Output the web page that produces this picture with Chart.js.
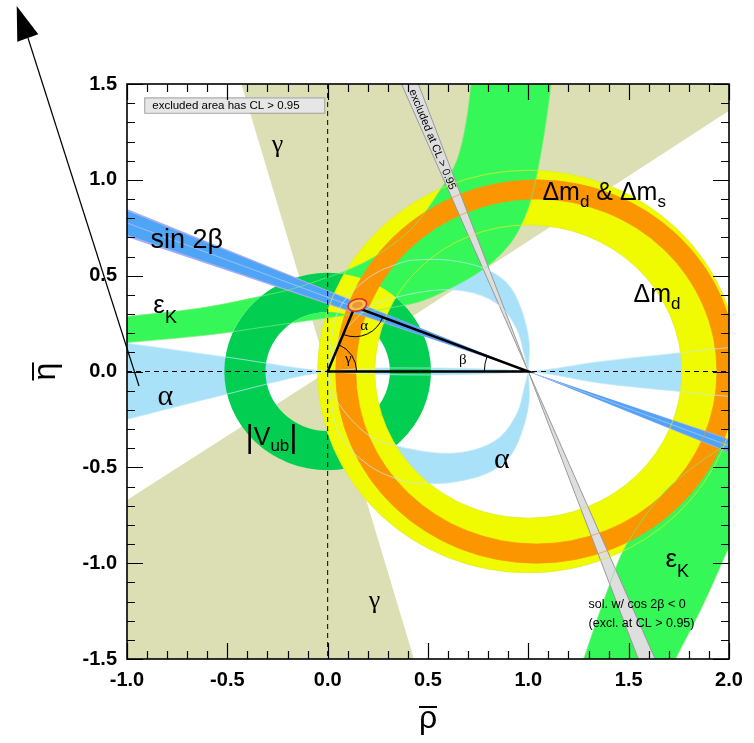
<!DOCTYPE html>
<html>
<head>
<meta charset="utf-8">
<title>CKM unitarity triangle</title>
<script src="https://cdn.jsdelivr.net/npm/chart.js@4.4.1/dist/chart.umd.min.js"></script>
<style>
  html, body { margin: 0; padding: 0; background: #fff; }
  #wrap { width: 754px; height: 743px; }
</style>
</head>
<body>
<div id="wrap"><canvas id="ut" width="754" height="743"></canvas></div>
<script>
// axis ticks
const rhoTicks = [-1.0, -0.5, 0.0, 0.5, 1.0, 1.5, 2.0];
const etaTicks = [-1.5, -1.0, -0.5, 0.0, 0.5, 1.0, 1.5];

// unitarity triangle (rho, eta) and fit point
const triangle = [[0, 0], [1, 0], [0.135, 0.338], [0, 0]];
const fitPoint = [0.148, 0.347];

// gamma: double cone out of the origin
const gammaUp = [[0, 0], [-0.43, 1.5], [2.0, 1.5], [2.0, 1.36]];
const gammaDown = [[0, 0], [-1.0, -0.67], [-1.0, -1.5], [0.43, -1.5]];

// alpha: flat solutions along eta = 0
const alphaFlatTop = [[-1, 0.148], [-0.47, 0.07], [0, 0], [0.5, -0.018], [1, 0], [1.36, 0.052], [1.76, 0.098], [2, 0.125]];
const alphaFlatBottom = [[-1, -0.25], [-0.51, -0.12], [0, 0], [0.5, 0.018], [1, 0], [1.36, -0.061], [1.76, -0.105], [2, -0.13]];
// alpha: arcs through (0,0) and (1,0)
const alphaLowOuter = [[0, 0], [0.05, -0.31], [0.2, -0.486], [0.362, -0.566], [0.462, -0.583], [0.612, -0.58], [0.778, -0.539], [0.894, -0.461], [0.96, -0.34], [1.003, -0.165], [1, 0]];
const alphaLowInner = [[0, 0], [0.05, -0.16], [0.2, -0.33], [0.362, -0.392], [0.562, -0.426], [0.728, -0.409], [0.861, -0.34], [0.944, -0.217], [0.977, -0.096], [1, 0]];
const alphaUpOuter = [[0, 0], [0.05, 0.31], [0.2, 0.486], [0.362, 0.566], [0.462, 0.583], [0.612, 0.58], [0.778, 0.539], [0.894, 0.461], [0.96, 0.34], [1.003, 0.165], [1, 0]];
const alphaUpInner = [[0, 0], [0.05, 0.16], [0.2, 0.33], [0.362, 0.392], [0.562, 0.426], [0.728, 0.409], [0.861, 0.34], [0.944, 0.217], [0.977, 0.096], [1, 0]];

// rings: centre and [inner, outer] radius
const vubCenter = [0, 0];
const vubRadii = [0.31, 0.515];
const dmdCenter = [1, 0];
const dmdRadii = [0.765, 1.05];
const dmsCenter = [1.04, 0];
const dmsRadii = [0.90, 1.0];

// eps_K hyperbolic bands
const ekUpLow = [[-1, 0.151], [-0.6, 0.19], [-0.3, 0.235], [0, 0.28], [0.3, 0.33], [0.5, 0.38], [0.75, 0.515], [0.9, 0.655], [0.98, 0.8], [1.03, 0.966], [1.08, 1.245], [1.114, 1.5]];
const ekUpHigh = [[-1, 0.287], [-0.634, 0.331], [-0.3, 0.40], [-0.136, 0.444], [0.1, 0.53], [0.263, 0.618], [0.429, 0.757], [0.562, 0.949], [0.645, 1.105], [0.69, 1.3], [0.715, 1.5]];
const ekDownLeft = [[1.276, -1.5], [1.401, -1.123], [1.493, -0.896], [1.658, -0.653], [1.825, -0.496], [2.0, -0.373]];
const ekDownRight = [[1.733, -1.5], [1.874, -1.21], [2.0, -0.914]];

// sin 2beta: two lines crossing at (1,0)
const s2bOuter = [[-1, 0.848], [2, -0.424], [2, -0.351], [-1, 0.702]];
const s2bInner = [[-1, 0.837], [2, -0.4185], [2, -0.3565], [-1, 0.713]];
const s2bMid = [[-1, 0.775], [2, -0.3875]];

// cos 2beta < 0 solution
const cos2bBand = [[0.368, 1.5], [1.632, -1.5], [1.548, -1.5], [0.452, 1.5]];

const SANS = '"Liberation Sans", Arial, Helvetica, sans-serif';
const SERIF = '"Liberation Serif", "Times New Roman", serif';

const colors = {
  gamma: '#dcdfb4',
  alpha: '#a9e1f8',
  vub: '#02cf52',
  dmd: '#f0fa00',
  ek: '#36f758',
  dms: '#fb9600',
  s2bEdge: '#a8acf2',
  s2b: '#4ea5f6',
  grey: '#dedede',
  greyEdge: '#999999'
};

function toPx(chart, p) {
  return [chart.scales.x.getPixelForValue(p[0]), chart.scales.y.getPixelForValue(p[1])];
}

// smooth curve through points (Catmull-Rom as cubic Beziers)
function curve(ctx, pts, start) {
  if (start) ctx.moveTo(pts[0][0], pts[0][1]);
  else ctx.lineTo(pts[0][0], pts[0][1]);
  for (let i = 0; i < pts.length - 1; i++) {
    const p0 = pts[i - 1] || pts[i], p1 = pts[i], p2 = pts[i + 1], p3 = pts[i + 2] || p2;
    ctx.bezierCurveTo(
      p1[0] + (p2[0] - p0[0]) / 6, p1[1] + (p2[1] - p0[1]) / 6,
      p2[0] - (p3[0] - p1[0]) / 6, p2[1] - (p3[1] - p1[1]) / 6,
      p2[0], p2[1]);
  }
}

function band(chart, a, b, color) {
  const ctx = chart.ctx;
  ctx.beginPath();
  curve(ctx, a.map(p => toPx(chart, p)), true);
  curve(ctx, b.slice().reverse().map(p => toPx(chart, p)), false);
  ctx.closePath();
  ctx.fillStyle = color;
  ctx.fill();
}

function poly(chart, pts, color) {
  const ctx = chart.ctx;
  ctx.beginPath();
  pts.forEach((p, i) => {
    const q = toPx(chart, p);
    if (i === 0) ctx.moveTo(q[0], q[1]); else ctx.lineTo(q[0], q[1]);
  });
  ctx.closePath();
  ctx.fillStyle = color;
  ctx.fill();
}

function ellipse(chart, c, r) {
  const [cx, cy] = toPx(chart, c);
  const rx = Math.abs(chart.scales.x.getPixelForValue(c[0] + r) - cx);
  const ry = Math.abs(chart.scales.y.getPixelForValue(c[1] + r) - cy);
  chart.ctx.moveTo(cx + rx, cy);
  chart.ctx.ellipse(cx, cy, rx, ry, 0, 0, Math.PI * 2);
}

function ring(chart, c, radii, color) {
  const ctx = chart.ctx;
  ctx.beginPath();
  ellipse(chart, c, radii[1]);
  ellipse(chart, c, radii[0]);
  ctx.fillStyle = color;
  ctx.fill('evenodd');
}

function strokeCurve(chart, pts, color, w) {
  const ctx = chart.ctx;
  ctx.beginPath();
  curve(ctx, pts.map(p => toPx(chart, p)), true);
  ctx.strokeStyle = color;
  ctx.lineWidth = w;
  ctx.stroke();
}

function strokeRing(chart, c, radii, color, w) {
  const ctx = chart.ctx;
  ctx.strokeStyle = color;
  ctx.lineWidth = w;
  radii.forEach(r => { ctx.beginPath(); ellipse(chart, c, r); ctx.stroke(); });
}

// text runs with sub-scripts: [text, size, dy, family]
function runs(ctx, x, y, parts) {
  let cx = x;
  for (const [t, size, dy, fam] of parts) {
    ctx.font = size + 'px ' + (fam || SANS);
    ctx.fillText(t, cx, y + dy);
    cx += ctx.measureText(t).width;
  }
}

const constraintsPlugin = {
  id: 'constraints',
  beforeDatasetsDraw(chart) {
    const { ctx, chartArea: a } = chart;
    ctx.save();
    ctx.beginPath();
    ctx.rect(a.left, a.top, a.right - a.left, a.bottom - a.top);
    ctx.clip();

    poly(chart, gammaUp, colors.gamma);
    poly(chart, gammaDown, colors.gamma);

    band(chart, alphaFlatTop, alphaFlatBottom, colors.alpha);
    band(chart, alphaLowOuter, alphaLowInner, colors.alpha);
    band(chart, alphaUpOuter, alphaUpInner, colors.alpha);

    ring(chart, vubCenter, vubRadii, colors.vub);
    ring(chart, dmdCenter, dmdRadii, colors.dmd);

    // eps_K sits above Delta m_d but below the |Vub| ring
    ctx.save();
    ctx.beginPath();
    ctx.rect(a.left, a.top, a.right - a.left, a.bottom - a.top);
    ellipse(chart, vubCenter, vubRadii[1]);
    ellipse(chart, vubCenter, vubRadii[0]);
    ctx.clip('evenodd');
    band(chart, ekUpLow, ekUpHigh, colors.ek);
    band(chart, ekDownLeft, ekDownRight, colors.ek);
    ctx.restore();

    ring(chart, dmsCenter, dmsRadii, colors.dms);

    poly(chart, s2bOuter, colors.s2bEdge);
    poly(chart, s2bInner, colors.s2b);
    strokeCurve(chart, s2bMid, 'rgba(190,195,250,0.9)', 0.8);

    poly(chart, cos2bBand, colors.grey);
    ctx.beginPath();
    [[cos2bBand[0], cos2bBand[1]], [cos2bBand[2], cos2bBand[3]]].forEach(seg => {
      const p = toPx(chart, seg[0]), q = toPx(chart, seg[1]);
      ctx.moveTo(p[0], p[1]);
      ctx.lineTo(q[0], q[1]);
    });
    ctx.strokeStyle = colors.greyEdge;
    ctx.lineWidth = 1;
    ctx.stroke();

    // thin contour lines of each constraint
    strokeRing(chart, dmdCenter, dmdRadii, 'rgba(222,238,40,0.95)', 0.8);
    strokeRing(chart, dmsCenter, dmsRadii, 'rgba(246,150,20,0.9)', 0.8);
    [ekUpLow, ekUpHigh, ekDownLeft, ekDownRight].forEach(b => strokeCurve(chart, b, 'rgba(120,235,120,0.9)', 0.8));
    [alphaFlatTop, alphaFlatBottom, alphaLowOuter, alphaLowInner, alphaUpOuter, alphaUpInner]
      .forEach(b => strokeCurve(chart, b, 'rgba(196,234,250,0.9)', 0.8));

    // dashed rho = 0 and eta = 0 lines
    const x0 = chart.scales.x.getPixelForValue(0);
    const y0 = chart.scales.y.getPixelForValue(0);
    ctx.setLineDash([5, 4]);
    ctx.strokeStyle = '#000';
    ctx.lineWidth = 1;
    ctx.beginPath();
    ctx.moveTo(x0, a.top); ctx.lineTo(x0, a.bottom);
    ctx.moveTo(a.left, y0); ctx.lineTo(a.right, y0);
    ctx.stroke();
    ctx.setLineDash([]);

    ctx.restore();
  }
};

const overlayPlugin = {
  id: 'overlay',
  afterDatasetsDraw(chart) {
    const { ctx, chartArea: a, scales: { x, y } } = chart;
    ctx.save();
    ctx.beginPath();
    ctx.rect(a.left, a.top, a.right - a.left, a.bottom - a.top);
    ctx.clip();

    // fit region at the apex
    const [fx, fy] = toPx(chart, fitPoint);
    ctx.beginPath();
    ctx.ellipse(fx, fy, 9.5, 6, -0.25, 0, Math.PI * 2);
    ctx.fillStyle = '#f9c83c';
    ctx.fill();
    ctx.strokeStyle = '#e0262e';
    ctx.lineWidth = 1.6;
    ctx.stroke();
    ctx.beginPath();
    ctx.ellipse(fx, fy, 5.5, 3.2, -0.25, 0, Math.PI * 2);
    ctx.fillStyle = '#e89a3a';
    ctx.fill();

    // angle arcs
    const O = toPx(chart, triangle[0]), B = toPx(chart, triangle[1]), A = toPx(chart, triangle[2]);
    const ang = (p, q) => Math.atan2(q[1] - p[1], q[0] - p[0]);
    ctx.strokeStyle = '#000';
    ctx.lineWidth = 1;
    ctx.beginPath(); ctx.arc(O[0], O[1], 29, ang(O, A), 0); ctx.stroke();
    ctx.beginPath(); ctx.arc(A[0], A[1], 30, ang(A, B), ang(A, O)); ctx.stroke();
    ctx.beginPath(); ctx.arc(B[0], B[1], 44, Math.PI, ang(B, A) + Math.PI * 2); ctx.stroke();

    ctx.fillStyle = '#000';
    ctx.textAlign = 'center';
    ctx.textBaseline = 'alphabetic';
    const greek = (t, p, size) => {
      const q = toPx(chart, p);
      ctx.font = size + 'px ' + SERIF;
      ctx.fillText(t, q[0], q[1]);
    };
    greek('γ', [0.103, 0.045], 15);
    greek('α', [0.182, 0.218], 15);
    greek('β', [0.674, 0.04], 15);
    greek('γ', [-0.25, 1.147], 26);
    greek('γ', [0.233, -1.235], 26);
    greek('α', [-0.809, -0.174], 30);
    greek('α', [0.868, -0.503], 30);

    // constraint labels
    ctx.textAlign = 'left';
    const at = p => toPx(chart, p);
    let p = at([-0.883, 0.646]);
    runs(ctx, p[0], p[1], [['sin 2β', 27, 0]]);
    p = at([-0.869, 0.305]);
    runs(ctx, p[0], p[1], [['ε', 26, 0], ['K', 18, 10]]);
    p = at([1.683, -1.02]);
    runs(ctx, p[0], p[1], [['ε', 26, 0], ['K', 18, 10]]);
    p = at([-0.41, -0.383]);
    runs(ctx, p[0], p[1], [['|', 32, 2], ['V', 25, 0], ['ub', 17, 6], ['|', 32, 2]]);
    p = at([1.07, 0.897]);
    runs(ctx, p[0], p[1], [['Δm', 25, 0], ['d', 17, 7], [' & Δm', 25, 0], ['s', 17, 7]]);
    p = at([1.524, 0.363]);
    runs(ctx, p[0], p[1], [['Δm', 25, 0], ['d', 17, 7]]);

    p = at([1.3, -1.236]);
    runs(ctx, p[0], p[1], [['sol. w/ cos 2β < 0', 12.5, 0]]);
    p = at([1.3, -1.333]);
    runs(ctx, p[0], p[1], [['(excl. at CL > 0.95)', 12.5, 0]]);

    // label along the cos 2beta < 0 band
    const s = at([0.421, 1.47]), e = at([1, 0]);
    ctx.save();
    ctx.translate(s[0], s[1]);
    ctx.rotate(Math.atan2(e[1] - s[1], e[0] - s[0]));
    ctx.font = '11px ' + SANS;
    ctx.textBaseline = 'middle';
    ctx.fillText('excluded at CL > 0.95', 0, 0.5);
    ctx.restore();

    // legend box
    const l0 = at([-0.914, 1.43]), l1 = at([-0.017, 1.35]);
    ctx.fillStyle = '#e6e6e6';
    ctx.fillRect(l0[0], l0[1], l1[0] - l0[0], l1[1] - l0[1]);
    ctx.strokeStyle = '#a0a0a0';
    ctx.lineWidth = 1;
    ctx.strokeRect(l0[0] + 0.5, l0[1] + 0.5, l1[0] - l0[0], l1[1] - l0[1]);
    ctx.fillStyle = '#000';
    ctx.font = '11.5px ' + SANS;
    ctx.textBaseline = 'middle';
    ctx.fillText('excluded area has CL > 0.95', l0[0] + 8, (l0[1] + l1[1]) / 2 + 0.5);
    ctx.restore();
  },
  afterDraw(chart) {
    const { ctx, chartArea: a, scales: { x, y } } = chart;
    ctx.save();
    ctx.strokeStyle = '#000';
    ctx.lineWidth = 1.2;
    ctx.beginPath();
    for (let i = -10; i <= 20; i++) {
      const px = Math.round(x.getPixelForValue(i / 10)) + 0.5;
      const len = i % 5 === 0 ? 16 : 8;
      ctx.moveTo(px, a.bottom); ctx.lineTo(px, a.bottom - len);
      ctx.moveTo(px, a.top); ctx.lineTo(px, a.top + len);
    }
    for (let i = -15; i <= 15; i++) {
      const py = Math.round(y.getPixelForValue(i / 10)) + 0.5;
      const len = i % 5 === 0 ? 16 : 8;
      ctx.moveTo(a.left, py); ctx.lineTo(a.left + len, py);
      ctx.moveTo(a.right, py); ctx.lineTo(a.right - len, py);
    }
    ctx.stroke();
    ctx.lineWidth = 1.6;
    ctx.strokeRect(a.left, a.top, a.right - a.left, a.bottom - a.top);

    // axis titles
    ctx.fillStyle = '#000';
    ctx.textAlign = 'center';
    ctx.textBaseline = 'alphabetic';
    ctx.font = '32px ' + SANS;
    const cx = (a.left + a.right) / 2;
    ctx.fillText('ρ', cx, 728);
    ctx.lineWidth = 2;
    ctx.beginPath(); ctx.moveTo(cx - 9, 707); ctx.lineTo(cx + 9, 707); ctx.stroke();
    ctx.save();
    ctx.translate(55, (a.top + a.bottom) / 2);
    ctx.rotate(-Math.PI / 2);
    ctx.fillText('η', 0, 0);
    ctx.beginPath(); ctx.moveTo(-9, -22); ctx.lineTo(9, -22); ctx.stroke();
    ctx.restore();

    // arrow
    ctx.lineWidth = 1.2;
    ctx.beginPath(); ctx.moveTo(28, 38); ctx.lineTo(139, 386); ctx.stroke();
    ctx.beginPath();
    ctx.moveTo(16.7, 6); ctx.lineTo(38.3, 34.3); ctx.lineTo(17.3, 41.7); ctx.closePath();
    ctx.fill();
    ctx.restore();
  }
};

const tickFont = { family: SANS, size: 20, weight: 'bold' };

new Chart(document.getElementById('ut'), {
  type: 'scatter',
  data: {
    datasets: [{
      label: 'triangle',
      data: triangle.map(p => ({ x: p[0], y: p[1] })),
      showLine: true,
      borderColor: '#000',
      borderWidth: 2.5,
      pointRadius: 0,
      fill: false,
      tension: 0
    }]
  },
  options: {
    responsive: false,
    animation: false,
    devicePixelRatio: 1,
    layout: { padding: { top: 84, right: 25, bottom: 0, left: 0 } },
    plugins: { legend: { display: false }, tooltip: { enabled: false } },
    scales: {
      x: {
        type: 'linear', min: -1, max: 2,
        afterBuildTicks: s => { s.ticks = rhoTicks.map(v => ({ value: v })); },
        afterFit: s => { s.height = 84; },
        grid: { display: false, drawTicks: false },
        border: { display: false },
        ticks: { autoSkip: false, maxRotation: 0, padding: 9, color: '#000', font: tickFont,
                 callback: v => Number(v).toFixed(1) }
      },
      y: {
        type: 'linear', min: -1.5, max: 1.5,
        afterBuildTicks: s => { s.ticks = etaTicks.map(v => ({ value: v })); },
        afterFit: s => { s.width = 127; },
        grid: { display: false, drawTicks: false },
        border: { display: false },
        ticks: { autoSkip: false, padding: 10, color: '#000', font: tickFont,
                 callback: v => Number(v).toFixed(1) }
      }
    }
  },
  plugins: [constraintsPlugin, overlayPlugin]
});
</script>
</body>
</html>
